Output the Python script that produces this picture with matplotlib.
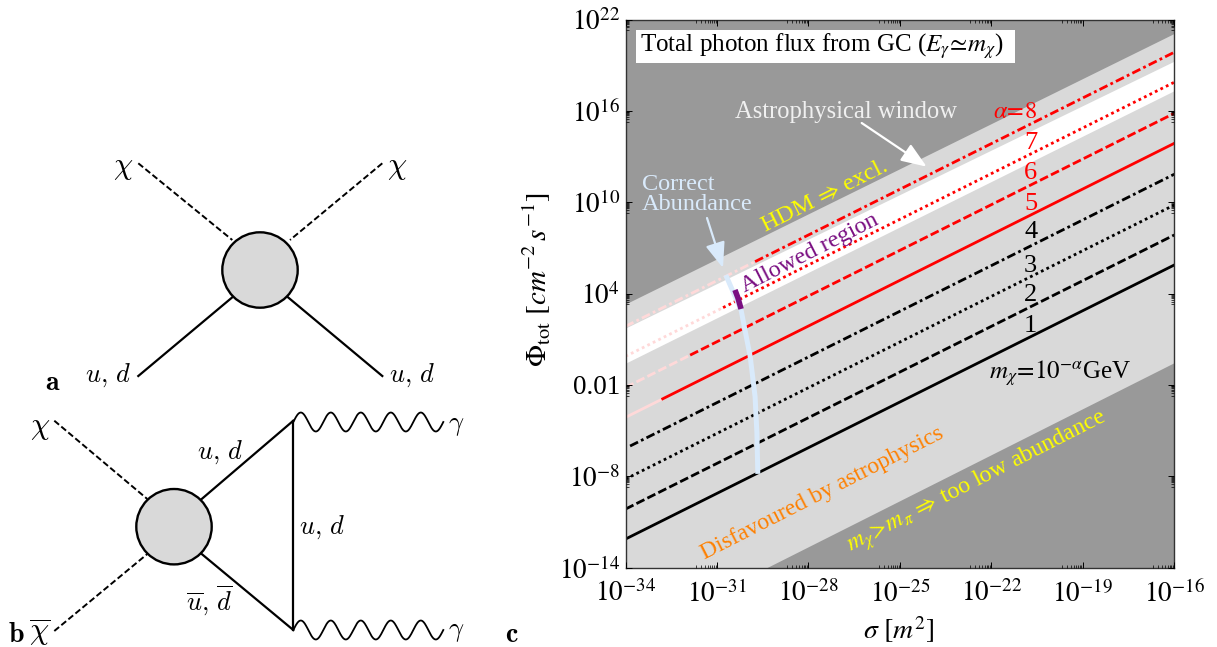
import numpy as np
import matplotlib
matplotlib.use('Agg')
import matplotlib.pyplot as plt
from matplotlib.patches import Circle, Rectangle

plt.rcParams['font.family'] = ['Liberation Serif', 'DejaVu Serif']
plt.rcParams['mathtext.fontset'] = 'stix'

W, H = 1217, 647

####-----------------Data (exponents of ten)-----------------
x_ticks = [-34, -31, -28, -25, -22, -19, -16]
y_ticks = [-14, -8, -2, 4, 10, 16, 22]
x_labels = ['$10^{-34}$', '$10^{-31}$', '$10^{-28}$', '$10^{-25}$', '$10^{-22}$', '$10^{-19}$', '$10^{-16}$']
y_labels = ['$10^{-14}$', '$10^{-8}$', '0.01', '$10^{4}$', '$10^{10}$', '$10^{16}$', '$10^{22}$']

x_ends = [-34, -16]
hot_edge = [3.32, 21.09]       # dark region above
white_top = [1.74, 19.27]
white_bot = [-0.57, 17.33]
low_x = [-29.37, -16]          # dark region below
low_y = [-14, -0.53]

alphas = [1, 2, 3, 4, 5, 6, 7, 8]
line_start_x = [-34, -34, -34, -34, -34, -34, -34, -34]
line_start_y = [-12.12, -10.15, -8.18, -6.16, -4.13, -2.16, -0.12, 1.85]
line_break_x = [-34, -34, -34, -33.85, -32.78, -31.88, -30.8, -29.75]
line_break_y = [-12.12, -10.15, -8.18, -6.01, -2.91, -0.04, 3.08, 6.10]
line_end_y = [5.88, 7.85, 9.82, 11.84, 13.87, 15.84, 17.88, 19.85]
line_styles = ['-', (0, (3.2, 1.2)), (0, (1, 1.2)), (0, (3.2, 1.2, 1, 1.2))] * 2
line_colors = ['black'] * 4 + ['red'] * 4

abund_x = [-30.71, -30.47, -30.21, -29.91, -29.75, -29.69, -29.66]
abund_y = [5.22, 4.11, 2.93, -0.14, -2.77, -5.15, -7.84]
allowed_x = [-30.41, -30.31, -30.21]
allowed_y = [4.24, 3.71, 2.99]

# diagrams, pixel positions on the page
blobs = [(260, 270), (174, 526.7)]
dashed_lines = [[(138.3, 163.3), (232.3, 240)], [(382.3, 163.3), (290, 240)],
                [(54.3, 420.7), (147.3, 499)], [(54.3, 631), (147.3, 554)]]
solid_lines = [[(138.3, 376), (232.3, 297.3)], [(382.3, 376), (288, 297.3)],
               [(201.7, 499), (293.3, 420.7)], [(201.7, 554), (293.3, 630)],
               [(293.3, 420.7), (293.3, 630)]]
photons_y = [422, 630]


fig = plt.figure(figsize=(W / 100, H / 100), dpi=100)
L, R, T, B = 625.5, 1174.3, 19.5, 567.7
ax = fig.add_axes([L / W, 1 - B / H, (R - L) / W, (B - T) / H])
ax.set_xscale('log')
ax.set_yscale('log')
ax.set_xlim(1e-34, 1e-16)
ax.set_ylim(1e-14, 1e22)
ax.set_facecolor('#999999')


def p10(v):
    return 10.0 ** np.array(v, dtype=float)


ax.fill_between(p10(x_ends), p10([-14, -14]), p10(hot_edge), color='#d9d9d9', lw=0, zorder=1)
ax.fill_between(p10(low_x), p10([-14, -14]), p10(low_y), color='#999999', lw=0, zorder=1.1)
ax.fill_between(p10(x_ends), p10(white_bot), p10(white_top), color='white', lw=0, zorder=1.2)

for i in range(len(alphas)):
    if line_break_x[i] > line_start_x[i] and alphas[i] > 4:
        ax.plot(p10([line_start_x[i], line_break_x[i]]), p10([line_start_y[i], line_break_y[i]]),
                color='#ffd9d9', lw=2.0, ls=line_styles[i], zorder=2)
    ax.plot(p10([line_break_x[i], -16]), p10([line_break_y[i], line_end_y[i]]),
            color=line_colors[i], lw=2.0, ls=line_styles[i], zorder=2.1)

ax.plot(p10(abund_x), p10(abund_y), color='#d9eafb', lw=3.6, solid_capstyle='butt', zorder=3)
ax.plot(p10(allowed_x), p10(allowed_y), color='#7a0f82', lw=4.0, solid_capstyle='butt', zorder=3.1)

ax.set_xticks(p10(x_ticks), x_labels)
ax.set_yticks(p10(y_ticks), y_labels)
x_minor = [m * 10.0 ** (t - 1) for t in x_ticks for m in range(2, 10) if t > -34]
y_minor = [m * 10.0 ** (t - 1) for t in y_ticks for m in range(2, 10) if t > -14]
ax.xaxis.set_minor_locator(matplotlib.ticker.FixedLocator(x_minor))
ax.yaxis.set_minor_locator(matplotlib.ticker.FixedLocator(y_minor))
ax.xaxis.set_minor_formatter(matplotlib.ticker.NullFormatter())
ax.yaxis.set_minor_formatter(matplotlib.ticker.NullFormatter())
ax.tick_params(which='major', direction='in', top=True, right=True, length=4, width=0.7, labelsize=19.5, pad=4)
ax.tick_params(which='minor', direction='in', top=True, right=True, length=2.2, width=0.5)
ax.tick_params(axis='x', which='major', pad=9)
for s in ax.spines.values():
    s.set_linewidth(1.0)
    s.set_color('#333333')
ax.set_axisbelow(False)

# page overlay in pixels for the diagrams and the notes
pg = fig.add_axes([0, 0, 1, 1], facecolor='none')
pg.set_xlim(0, W)
pg.set_ylim(H, 0)
pg.axis('off')

for c in blobs:
    pg.add_patch(Circle(c, 37.7, facecolor='#d9d9d9', edgecolor='black', lw=1.7, zorder=3))
for seg in dashed_lines:
    pg.plot(*zip(*seg), color='black', lw=1.4, ls=(0, (3.2, 1.5)))
for seg in solid_lines:
    pg.plot(*zip(*seg), color='black', lw=1.6)
wx = np.linspace(293.3, 443.3, 300)
for y0 in photons_y:
    pg.plot(wx, y0 - 9.5 * np.sin(2 * np.pi * (wx - 293.3) / 30), color='black', lw=1.3)


def note(x, y, s, size=17, color='black', rot=0, ha='center', **kw):
    pg.text(x, y, s, fontsize=size, color=color, rotation=rot, ha=ha, va='center',
            rotation_mode='anchor', **kw)


# diagram labels
for x, y, s in [(108, 375, r'$u,\,d$'), (412, 375, r'$u,\,d$'), (220, 452.7, r'$u,\,d$'),
                (322, 527, r'$u,\,d$'), (209, 601, r'$\overline{u},\,\overline{d}$'),
                (456, 427, r'$\gamma$'), (456, 633, r'$\gamma$')]:
    note(x, y, s, size=19, math_fontfamily='cm')
for x, y, s in [(123, 168, r'$\chi$'), (397, 168, r'$\chi$'), (40, 427, r'$\chi$'), (40, 633, r'$\overline{\chi}$')]:
    note(x, y, s, size=22, math_fontfamily='cm')
for x, y, s in [(53, 384, r'$\mathbf{a}$'), (16, 636, r'$\mathbf{b}$'), (512, 636, r'$\mathbf{c}$')]:
    note(x, y, s, size=20, math_fontfamily='cm')

# panel c notes
pg.add_patch(Rectangle((636, 30), 379, 32.7, facecolor='white', edgecolor='none', zorder=1))
note(822, 46, r'Total photon flux from GC ($E_{\gamma}\!\simeq\! m_{\chi}$)', size=18, zorder=2)
note(846, 112, 'Astrophysical window', size=17.7, color='#f0f0f0')
note(642, 184, 'Correct', size=17.5, color='#d9eafb', ha='left')
note(642, 204, 'Abundance', size=17.5, color='#d9eafb', ha='left')
note(824, 196, r'HDM$\,\Rightarrow\,$excl.', size=17.5, color='#ffff00', rot=26.5)
note(810, 253, 'Allowed region', size=17.5, color='#7a0f82', rot=27)
note(822, 493, 'Disfavoured by astrophysics', size=17, color='#ff8000', rot=27)
note(977, 482, r'$m_{\chi}\!>\!m_{\pi}\,\Rightarrow\,$too low abundance', size=17.3, color='#ffff00', rot=27)
note(1060, 373, r'$m_{\chi}\!=\!10^{-\alpha}$GeV', size=18)
note(1015, 113, r'$\alpha\!=\!8$', size=17.5, color='red')
for y, s, col in [(143, '7', 'red'), (173, '6', 'red'), (203.5, '5', 'red'), (232, '4', 'black'),
                  (265.7, '3', 'black'), (295, '2', 'black'), (326, '1', 'black')]:
    note(1030.7, y, s, size=19, color=col)
note(899, 630, r'$\sigma\ [m^{2}]$', size=20)
note(537, 280, r'$\Phi_{\mathrm{tot}}\ [cm^{-2}\,s^{-1}]$', size=21, rot=90)

for tip, tail, col in [((926.7, 166.7), (861.7, 123), 'white'), ((723, 268), (707, 218), '#d9eafb')]:
    pg.annotate('', xy=tip, xytext=tail,
                arrowprops=dict(arrowstyle='-|>,head_length=1.3,head_width=0.5', mutation_scale=12,
                                color=col, lw=1.6, shrinkA=0, shrinkB=0))

fig.savefig('out.png', dpi=100)
